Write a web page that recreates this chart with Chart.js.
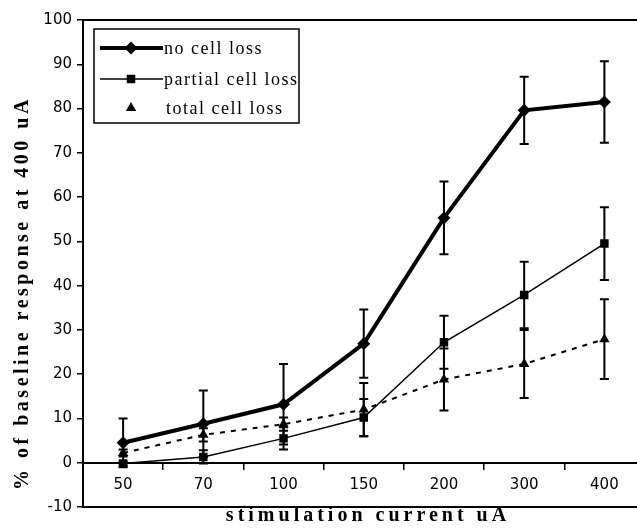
<!DOCTYPE html>
<html>
<head>
<meta charset="utf-8">
<script src="https://cdn.jsdelivr.net/npm/chart.js@4.4.0/dist/chart.umd.min.js"></script>
<style>
    html, body { margin: 0; padding: 0; overflow: hidden; background: #fff; }
    canvas { display: block; }
</style>
</head>
<body>
<canvas id="chart" width="651" height="529"></canvas>
<script>
// stimulation current (uA)
const categories = ["50", "70", "100", "150", "200", "300", "400"];

// % of baseline response
const noLoss = [4.5, 8.8, 13.2, 26.9, 55.3, 79.6, 81.5];
const noLossErr = [5.5, 7.5, 9.1, 7.7, 8.2, 7.6, 9.2];

const partialLoss = [-0.2, 1.3, 5.5, 10.2, 27.2, 37.9, 49.5];
const partialLossErr = [0.5, 1.5, 2.5, 4.2, 6.0, 7.5, 8.2];

const totalLoss = [2.2, 6.3, 8.7, 12.0, 18.8, 22.3, 27.9];
const totalLossErr = [0.8, 1.5, 1.5, 6.0, 7.0, 7.7, 9.0];

const errors = [noLossErr, partialLossErr, totalLossErr];

const tickFont = { family: "DejaVu Sans", size: 15 };

// frame round the plot area (top and bottom lines)
const frame = {
    id: "frame",
    beforeDatasetsDraw(chart) {
        const a = chart.chartArea;
        const ctx = chart.ctx;
        ctx.save();
        ctx.strokeStyle = "#000";
        ctx.lineWidth = 2;
        ctx.strokeRect(a.left, a.top, a.right - a.left, a.bottom - a.top);
        ctx.restore();
    }
};

// vertical error bars with caps
const errorBars = {
    id: "errorBars",
    beforeDatasetsDraw(chart) {
        const ctx = chart.ctx;
        const y = chart.scales.y;
        ctx.save();
        ctx.strokeStyle = "#000";
        ctx.lineWidth = 2;
        chart.data.datasets.forEach((ds, i) => {
            const meta = chart.getDatasetMeta(i);
            meta.data.forEach((pt, j) => {
                const v = ds.data[j];
                const e = errors[i][j];
                const top = y.getPixelForValue(v + e);
                const bot = y.getPixelForValue(v - e);
                ctx.beginPath();
                ctx.moveTo(pt.x, top);
                ctx.lineTo(pt.x, bot);
                ctx.moveTo(pt.x - 4.5, top);
                ctx.lineTo(pt.x + 4.5, top);
                ctx.moveTo(pt.x - 4.5, bot);
                ctx.lineTo(pt.x + 4.5, bot);
                ctx.stroke();
            });
        });
        ctx.restore();
    }
};

// legend box inside the plot + axis titles
const extras = {
    id: "extras",
    afterDraw(chart) {
        const ctx = chart.ctx;
        ctx.save();

        // legend
        ctx.strokeStyle = "#000";
        ctx.lineWidth = 1.5;
        ctx.strokeRect(94, 29, 205, 94);
        const rows = [48, 79, 108];
        ctx.font = "18px 'Liberation Serif'";
        ctx.letterSpacing = "1.5px";
        ctx.textBaseline = "middle";
        ctx.textAlign = "left";
        chart.data.datasets.forEach((ds, i) => {
            const ry = rows[i];
            if (!ds.borderDash) {
                ctx.beginPath();
                ctx.lineWidth = ds.borderWidth;
                ctx.moveTo(100, ry);
                ctx.lineTo(163, ry);
                ctx.stroke();
            }
            ctx.fillStyle = "#000";
            Chart.helpers.drawPoint(ctx, {
                pointStyle: ds.pointStyle,
                radius: ds.pointRadius,
                rotation: 0,
                borderWidth: 0
            }, 131, ry);
            ctx.fillStyle = "#000";
            ctx.fillText(ds.label, ds.borderDash ? 166 : 164, ry + 1);
        });

        // axis titles
        ctx.font = "bold 20px 'Liberation Serif'";
        ctx.letterSpacing = "4px";
        ctx.textAlign = "center";
        ctx.fillText("stimulation current uA", 368, 516);

        ctx.letterSpacing = "3.5px";
        ctx.translate(23, 293);
        ctx.rotate(-Math.PI / 2);
        ctx.fillText("% of baseline response at 400 uA", 0, 0);
        ctx.restore();
    }
};

new Chart(document.getElementById("chart"), {
    type: "line",
    data: {
        labels: categories,
        datasets: [
            {
                label: "no cell loss",
                data: noLoss,
                borderColor: "#000",
                backgroundColor: "#000",
                borderWidth: 4,
                pointStyle: "rectRot",
                pointRadius: 6.5,
                pointBorderWidth: 0,
                tension: 0
            },
            {
                label: "partial cell loss",
                data: partialLoss,
                borderColor: "#000",
                backgroundColor: "#000",
                borderWidth: 1.5,
                pointStyle: "rect",
                pointRadius: 6,
                pointBorderWidth: 0,
                tension: 0
            },
            {
                label: "total cell loss",
                data: totalLoss,
                borderColor: "#000",
                backgroundColor: "#000",
                borderWidth: 2,
                borderDash: [5, 6],
                pointStyle: "triangle",
                pointRadius: 6,
                pointBorderWidth: 0,
                tension: 0
            }
        ]
    },
    options: {
        responsive: false,
        animation: false,
        layout: { padding: { top: 20, bottom: 22, left: 0, right: 1 } },
        plugins: {
            legend: { display: false },
            tooltip: { enabled: false }
        },
        scales: {
            x: {
                type: "category",
                offset: true,
                position: { y: 0 },
                afterFit: (scale) => { scale.height = 10; },
                grid: {
                    offset: true,
                    drawOnChartArea: false,
                    tickLength: 6,
                    color: "#000",
                    lineWidth: 1.5
                },
                border: { color: "#000", width: 2 },
                ticks: { color: "#000", font: tickFont, padding: 7 }
            },
            y: {
                min: -10,
                max: 100,
                afterFit: (scale) => { scale.width = 83; },
                grid: {
                    drawOnChartArea: false,
                    tickLength: 6,
                    color: "#000",
                    lineWidth: 1.5
                },
                border: { color: "#000", width: 2 },
                ticks: { stepSize: 10, color: "#000", font: tickFont, padding: 5 }
            }
        }
    },
    plugins: [frame, errorBars, extras]
});
</script>
</body>
</html>
